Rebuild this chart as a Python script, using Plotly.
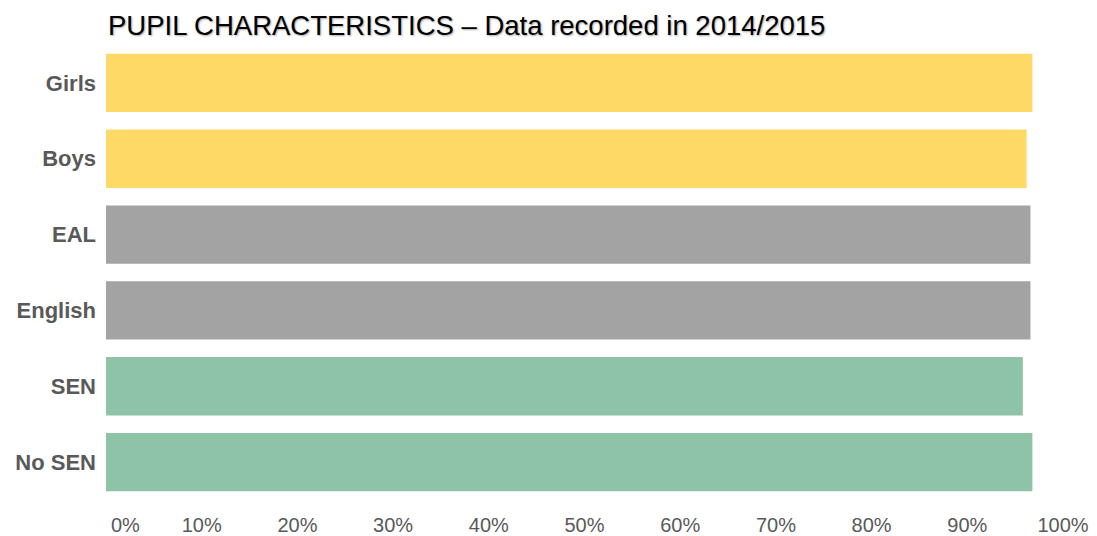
import plotly.graph_objects as go

categories = ["Girls", "Boys", "EAL", "English", "SEN", "No SEN"]
values = [0.968, 0.962, 0.966, 0.966, 0.958, 0.968]
bar_colors = ["#FED966", "#FED966", "#A3A3A3", "#A3A3A3", "#8FC3A7", "#8FC3A7"]
tick_vals = [i / 10 for i in range(11)]
tick_text = [f"{i * 10}%" for i in range(11)]
# Excel nudges the first label inward
tick_text[0] = "\u00a0" * 7 + tick_text[0]

fig = go.Figure()

fig.add_trace(
    go.Bar(
        x=values,
        y=categories,
        orientation="h",
        marker=dict(color=bar_colors, line=dict(width=0)),
        hoverinfo="x+y",
    )
)

# page body has an 8px margin, so everything is pulled up/left by 8
fig.update_layout(
    width=1097,
    height=536,
    margin=dict(l=98, r=42, t=37, b=44),
    plot_bgcolor="white",
    paper_bgcolor="white",
    bargap=0.23,
    showlegend=False,
    xaxis=dict(
        range=[0, 1],
        tickvals=tick_vals,
        ticktext=tick_text,
        showgrid=False,
        zeroline=False,
        showline=False,
        ticks="",
        automargin=False,
        ticklabelstandoff=11,
        tickfont=dict(family="Liberation Sans, Arial", size=20, color="#595959"),
    ),
    yaxis=dict(
        autorange="reversed",
        showgrid=False,
        zeroline=False,
        showline=False,
        ticks="",
        automargin=False,
        ticklabelstandoff=9,
        tickfont=dict(family="Liberation Sans, Arial", size=22, color="#595959", weight="bold"),
    ),
    annotations=[
        dict(
            text="PUPIL CHARACTERISTICS – Data recorded in 2014/2015",
            xref="paper",
            yref="paper",
            x=0,
            y=1,
            yshift=20,
            xanchor="left",
            yanchor="middle",
            showarrow=False,
            font=dict(
                family="Liberation Sans, Arial",
                size=27.5,
                color="black",
                shadow="1px 1px 2px rgba(0,0,0,0.35)",
            ),
        )
    ],
)

fig.write_html("out.html")
